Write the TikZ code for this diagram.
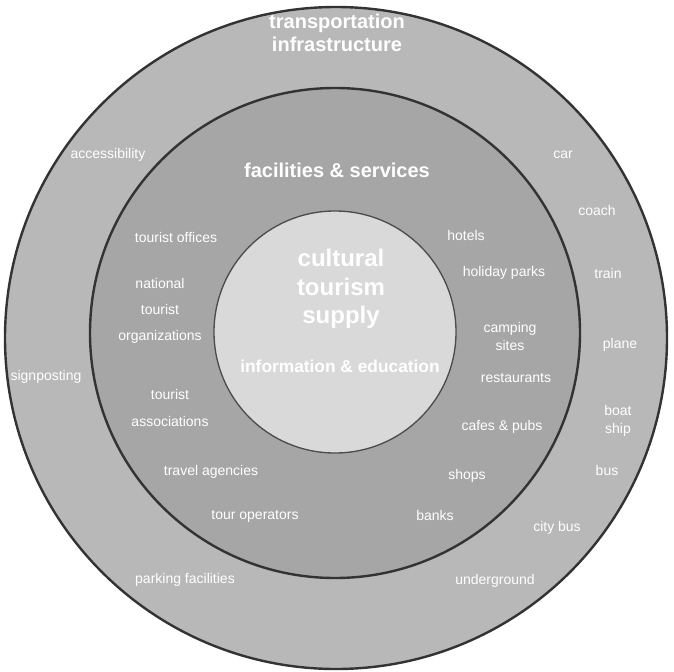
\documentclass[tikz,border=0pt]{standalone}
\usepackage{fontspec}
\setmainfont{Liberation Sans}
\begin{document}
\begin{tikzpicture}[x=0.75pt,y=-0.75pt,
  ring/.style={draw=black!80,line width=1.8pt},
  lbl/.style={text=white,font=\fontsize{10.5}{19.5}\selectfont,align=center,inner sep=1pt},
  ttl/.style={text=white,font=\bfseries\fontsize{15}{17.5}\selectfont,align=center,inner sep=1pt},
  core/.style={text=white,font=\bfseries\fontsize{18}{21.5}\selectfont,align=center,inner sep=1pt}]
\useasboundingbox (0,0) rectangle (674,671);
\fill[white] (0,0) rectangle (674,671);
% rings
\path[ring,fill=black!28] (336,338) circle[radius=331];
\path[ring,fill=black!35] (335,333) circle[radius=245];
\path[draw=black!70,line width=1pt,fill=black!15] (335,332) circle[radius=121];
% titles
\node[ttl] (tr) at (337,33) {transportation\\infrastructure};
\node[ttl] (fs) at (337,170) {facilities \& services};
\node[core] (cu) at (341,289) {cultural\\tourism\\supply};
\node[ttl,font=\bfseries\fontsize{13}{14}\selectfont] (ie) at (340,366) {information \& education};
% outer ring labels
\node[lbl] (acc) at (108,155) {accessibility};
\node[lbl] (car) at (563,155) {car};
\node[lbl] (coa) at (597,210) {coach};
\node[lbl] (tra) at (608,273) {train};
\node[lbl] (pla) at (620,345) {plane};
\node[lbl,font=\fontsize{10.5}{13}\selectfont] (boa) at (618,421) {boat\\ship};
\node[lbl] (bus) at (607,470) {bus};
\node[lbl] (cbu) at (557,528) {city bus};
\node[lbl] (und) at (495,581) {underground};
\node[lbl] (par) at (185,580) {parking facilities};
\node[lbl] (sig) at (46,377) {signposting};
% middle ring labels
\node[lbl] (tof) at (176,237) {tourist offices};
\node[lbl] (nto) at (160,311) {national\\tourist\\organizations};
\node[lbl,font=\fontsize{10.5}{20}\selectfont] (tas) at (170,408) {tourist\\associations};
\node[lbl] (tag) at (211,472) {travel agencies};
\node[lbl] (top) at (255,516) {tour operators};
\node[lbl] (hot) at (466,235) {hotels};
\node[lbl] (hol) at (504,273) {holiday parks};
\node[lbl,font=\fontsize{10.5}{13.5}\selectfont] (cam) at (510,336) {camping\\sites};
\node[lbl] (res) at (516,378) {restaurants};
\node[lbl] (caf) at (502,427) {cafes \& pubs};
\node[lbl] (sho) at (467,476) {shops};
\node[lbl] (ban) at (435,515) {banks};
\end{tikzpicture}
\end{document}
